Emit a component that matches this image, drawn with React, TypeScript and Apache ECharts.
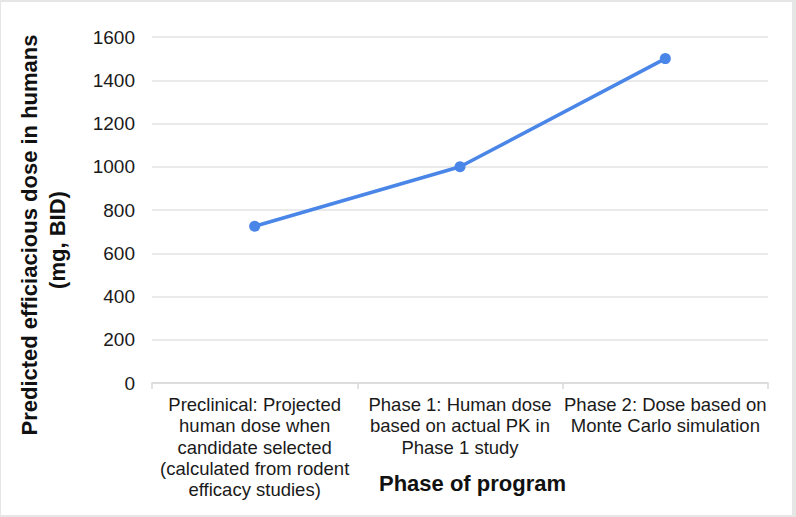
import React, { useEffect, useRef } from "react";
import * as echarts from "echarts";

const categories = [
  "Preclinical: Projected\nhuman dose when\ncandidate selected\n(calculated from rodent\nefficacy studies)",
  "Phase 1: Human dose\nbased on actual PK in\nPhase 1 study",
  "Phase 2: Dose based on\nMonte Carlo simulation",
];
const doseValues = [725, 1000, 1500];
const yMin = 0;
const yMax = 1600;
const yStep = 200;
const yTitleLines = ["Predicted efficiacious dose in humans", "(mg, BID)"];
const xTitle = "Phase of program";

export default function App() {
  const ref = useRef<HTMLDivElement>(null);
  useEffect(() => {
    if (!ref.current) return;
    const chart = echarts.init(ref.current, null, { renderer: "svg" });
    const font = "'Liberation Sans', Arial, sans-serif";
    const titleStyle = { fontSize: 22, fontWeight: "bold", fill: "#111", fontFamily: font };
    chart.setOption({
      animation: false,
      backgroundColor: "#ffffff",
      grid: { left: 151, right: 24, top: 35, bottom: 132, containLabel: false },
      xAxis: {
        type: "category",
        data: categories,
        boundaryGap: true,
        axisLine: { show: true, lineStyle: { color: "#d9d9d9", width: 1.5 } },
        axisTick: { show: true, length: 6, lineStyle: { color: "#d9d9d9", width: 1.5 } },
        axisLabel: {
          color: "#1a1a1a",
          fontSize: 18.5,
          lineHeight: 21.3,
          fontFamily: font,
          margin: 11,
          interval: 0,
          align: "center",
        },
      },
      yAxis: {
        type: "value",
        min: yMin,
        max: yMax,
        interval: yStep,
        axisLine: { show: false },
        axisTick: { show: false },
        splitLine: { lineStyle: { color: "#e3e3e3", width: 1.5 } },
        axisLabel: {
          color: "#1a1a1a",
          fontSize: 19,
          fontFamily: font,
          margin: 17,
          formatter: (v: number) => String(v),
        },
      },
      graphic: [
        {
          type: "text",
          x: 28.5,
          y: 233,
          rotation: Math.PI / 2,
          style: { ...titleStyle, text: yTitleLines[0], textAlign: "center", textVerticalAlign: "middle" },
        },
        {
          type: "text",
          x: 56,
          y: 238,
          rotation: Math.PI / 2,
          style: { ...titleStyle, text: yTitleLines[1], textAlign: "center", textVerticalAlign: "middle" },
        },
        {
          type: "text",
          x: 471.5,
          y: 481,
          style: { ...titleStyle, text: xTitle, textAlign: "center", textVerticalAlign: "middle" },
        },
      ],
      series: [
        {
          type: "line",
          data: doseValues,
          symbol: "circle",
          symbolSize: 11,
          lineStyle: { color: "#4a86e8", width: 3.5 },
          itemStyle: { color: "#4a86e8" },
        },
      ],
    });
    return () => chart.dispose();
  }, []);
  return (
    <div
      style={{
        position: "fixed",
        left: 0,
        top: 0,
        width: 796,
        height: 517,
        background: "#e6e6e6",
      }}
    >
      <div
        ref={ref}
        style={{ position: "absolute", left: 1, top: 2, width: 791, height: 513, background: "#fff" }}
      />
    </div>
  );
}
